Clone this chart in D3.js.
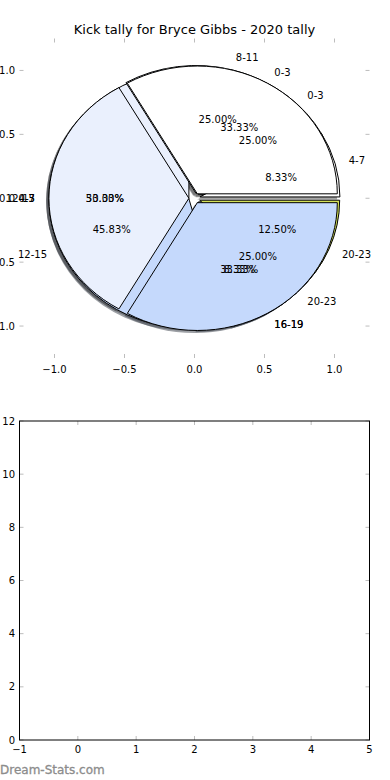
<!DOCTYPE html>
<html>
<head>
<meta charset="utf-8">
<script src="https://cdn.jsdelivr.net/npm/d3@7"></script>
<style>
  html, body { margin: 0; padding: 0; background: #fff; }
  text { font-family: "DejaVu Sans", sans-serif; }
</style>
</head>
<body>
<div id="chart"></div>
<script>
// ---------- data ----------
const titleText = "Kick tally for Bryce Gibbs - 2020 tally";
// three overlaid pies (drawn in this order)
const pie1Labels = ["0-3", "4-7", "20-23"];
const pie1Values = [1, 2, 1];
const pie2Labels = ["4-7", "8-11", "12-15", "16-19", "20-23"];
const pie2Values = [2, 6, 11, 2, 3];
const pie3Labels = ["0-3", "12-15", "16-19"];
const pie3Values = [1, 1, 1];
const extraLabels = ["0-3"];           // label stacked at the left (180°)
const sliceColors = ["#ffffff", "#eaf0fd", "#c5d9fc", "#9fc5f8", "#d4e157"];
const pieTicks = [-1.0, -0.5, 0.0, 0.5, 1.0];
const lowerXTicks = [-1, 0, 1, 2, 3, 4, 5];
const lowerYTicks = [0, 2, 4, 6, 8, 10, 12];
const watermark = "Dream-Stats.com";

// ---------- setup ----------
const W = 390, H = 780;
const svg = d3.select("#chart").append("svg")
  .attr("width", W).attr("height", H)
  .style("display", "block");

const tickColor = "#bdbdbd";
const fmt1 = v => (v < 0 ? "\u2212" : "") + Math.abs(v).toFixed(1);
const fmtInt = v => (v < 0 ? "\u2212" : "") + Math.abs(v);

// ---------- pie axes ----------
const px = d3.scaleLinear().domain([-1.25, 1.25]).range([19.5, 369.5]);
const py = d3.scaleLinear().domain([-1.25, 1.25]).range([358, 38.5]);
const kx = px(1) - px(0), ky = py(0) - py(1);

svg.append("text")
  .attr("x", 194.5).attr("y", 34)
  .attr("text-anchor", "middle")
  .attr("font-size", 13)
  .text(titleText);

// ticks (frame off, ticks only, pointing inward)
const pt = svg.append("g").attr("stroke", tickColor).attr("stroke-width", 1);
pieTicks.forEach(v => {
  pt.append("line").attr("x1", px(v)).attr("x2", px(v)).attr("y1", py(1.25)).attr("y2", py(1.25) + 4);
  pt.append("line").attr("x1", px(v)).attr("x2", px(v)).attr("y1", py(-1.25)).attr("y2", py(-1.25) - 4);
  pt.append("line").attr("y1", py(v)).attr("y2", py(v)).attr("x1", px(-1.25)).attr("x2", px(-1.25) + 4);
  pt.append("line").attr("y1", py(v)).attr("y2", py(v)).attr("x1", px(1.25)).attr("x2", px(1.25) - 4);
});
const ptl = svg.append("g").attr("font-size", 10).attr("fill", "#000");
pieTicks.forEach(v => {
  ptl.append("text").attr("x", px(v)).attr("y", py(-1.25) + 15)
    .attr("text-anchor", "middle").text(fmt1(v));
  ptl.append("text").attr("x", 15).attr("y", py(v))
    .attr("dy", "0.35em").attr("text-anchor", "end").text(fmt1(v));
});

const explode = 0.04, shadowOff = 0.02;
const pieGen = d3.pie().sort(null).value(d => d.v)
  .startAngle(Math.PI / 2).endAngle(Math.PI / 2 - 2 * Math.PI);
const arcGen = d3.arc().innerRadius(0).outerRadius(1);

function layout(labels, values) {
  const total = d3.sum(values);
  return pieGen(values.map((v, i) => ({ v, label: labels[i], i }))).map(d => {
    const tm = Math.PI / 2 - (d.startAngle + d.endAngle) / 2;
    const ox = explode * Math.cos(tm), oy = explode * Math.sin(tm);
    return { ...d, tm, ox, oy, pct: (100 * d.data.v / total).toFixed(2) + "%" };
  });
}
const pies = [layout(pie1Labels, pie1Values), layout(pie2Labels, pie2Values), layout(pie3Labels, pie3Values)];

const shadowLayer = svg.append("g");
const wedgeLayer = svg.append("g");
const textLayer = svg.append("g").attr("font-size", 10).attr("fill", "#000");

pies.forEach(slices => {
  slices.forEach(d => {
    const c = d3.rgb(sliceColors[d.data.i]);
    shadowLayer.append("path")
      .attr("d", arcGen(d))
      .attr("transform", `translate(${px(d.ox - shadowOff)},${py(d.oy - shadowOff)}) scale(${kx},${ky})`)
      .attr("fill", d3.rgb(c.r * 0.3, c.g * 0.3, c.b * 0.3))
      .attr("fill-opacity", 0.5);
  });
});
pies.forEach(slices => {
  slices.forEach(d => {
    wedgeLayer.append("path")
      .attr("d", arcGen(d))
      .attr("transform", `translate(${px(d.ox)},${py(d.oy)}) scale(${kx},${ky})`)
      .attr("fill", sliceColors[d.data.i])
      .attr("stroke", "#000")
      .attr("stroke-width", 1)
      .attr("vector-effect", "non-scaling-stroke");
  });
});
pies.forEach(slices => {
  slices.forEach(d => {
    const lx = d.ox + 1.1 * Math.cos(d.tm), ly = d.oy + 1.1 * Math.sin(d.tm);
    textLayer.append("text")
      .attr("x", px(lx)).attr("y", py(ly)).attr("dy", "0.35em")
      .attr("text-anchor", lx > 0 ? "start" : "end")
      .text(d.data.label);
    const tx = d.ox + 0.6 * Math.cos(d.tm), ty = d.oy + 0.6 * Math.sin(d.tm);
    textLayer.append("text")
      .attr("x", px(tx)).attr("y", py(ty)).attr("dy", "0.35em")
      .attr("text-anchor", "middle")
      .text(d.pct);
  });
});
extraLabels.forEach(l => {
  const tm = Math.PI, lx = explode * Math.cos(tm) + 1.1 * Math.cos(tm);
  textLayer.append("text")
    .attr("x", px(lx)).attr("y", py(0)).attr("dy", "0.35em")
    .attr("text-anchor", "end").text(l);
});

// ---------- lower (empty) axes ----------
const lx = d3.scaleLinear().domain([-1, 5]).range([19.5, 369.5]);
const ly = d3.scaleLinear().domain([0, 12]).range([740, 421]);

const lt = svg.append("g").attr("stroke", tickColor).attr("stroke-width", 1);
lowerXTicks.forEach(v => {
  lt.append("line").attr("x1", lx(v)).attr("x2", lx(v)).attr("y1", ly(0)).attr("y2", ly(0) - 4);
  lt.append("line").attr("x1", lx(v)).attr("x2", lx(v)).attr("y1", ly(12)).attr("y2", ly(12) + 4);
});
lowerYTicks.forEach(v => {
  lt.append("line").attr("y1", ly(v)).attr("y2", ly(v)).attr("x1", lx(-1)).attr("x2", lx(-1) + 4);
  lt.append("line").attr("y1", ly(v)).attr("y2", ly(v)).attr("x1", lx(5)).attr("x2", lx(5) - 4);
});
svg.append("rect")
  .attr("x", lx(-1)).attr("y", ly(12))
  .attr("width", lx(5) - lx(-1)).attr("height", ly(0) - ly(12))
  .attr("fill", "none").attr("stroke", "#000").attr("stroke-width", 1);

const ltl = svg.append("g").attr("font-size", 10).attr("fill", "#000");
lowerXTicks.forEach(v => {
  ltl.append("text").attr("x", lx(v)).attr("y", ly(0) + 13)
    .attr("text-anchor", "middle").text(fmtInt(v));
});
lowerYTicks.forEach(v => {
  ltl.append("text").attr("x", 15).attr("y", ly(v)).attr("dy", "0.35em")
    .attr("text-anchor", "end").text(fmtInt(v));
});

svg.append("text")
  .attr("x", 0).attr("y", 774)
  .attr("font-size", 12)
  .attr("fill", "#8c8c8c")
  .attr("stroke", "#8c8c8c").attr("stroke-width", 0.3)
  .text(watermark);
</script>
</body>
</html>
